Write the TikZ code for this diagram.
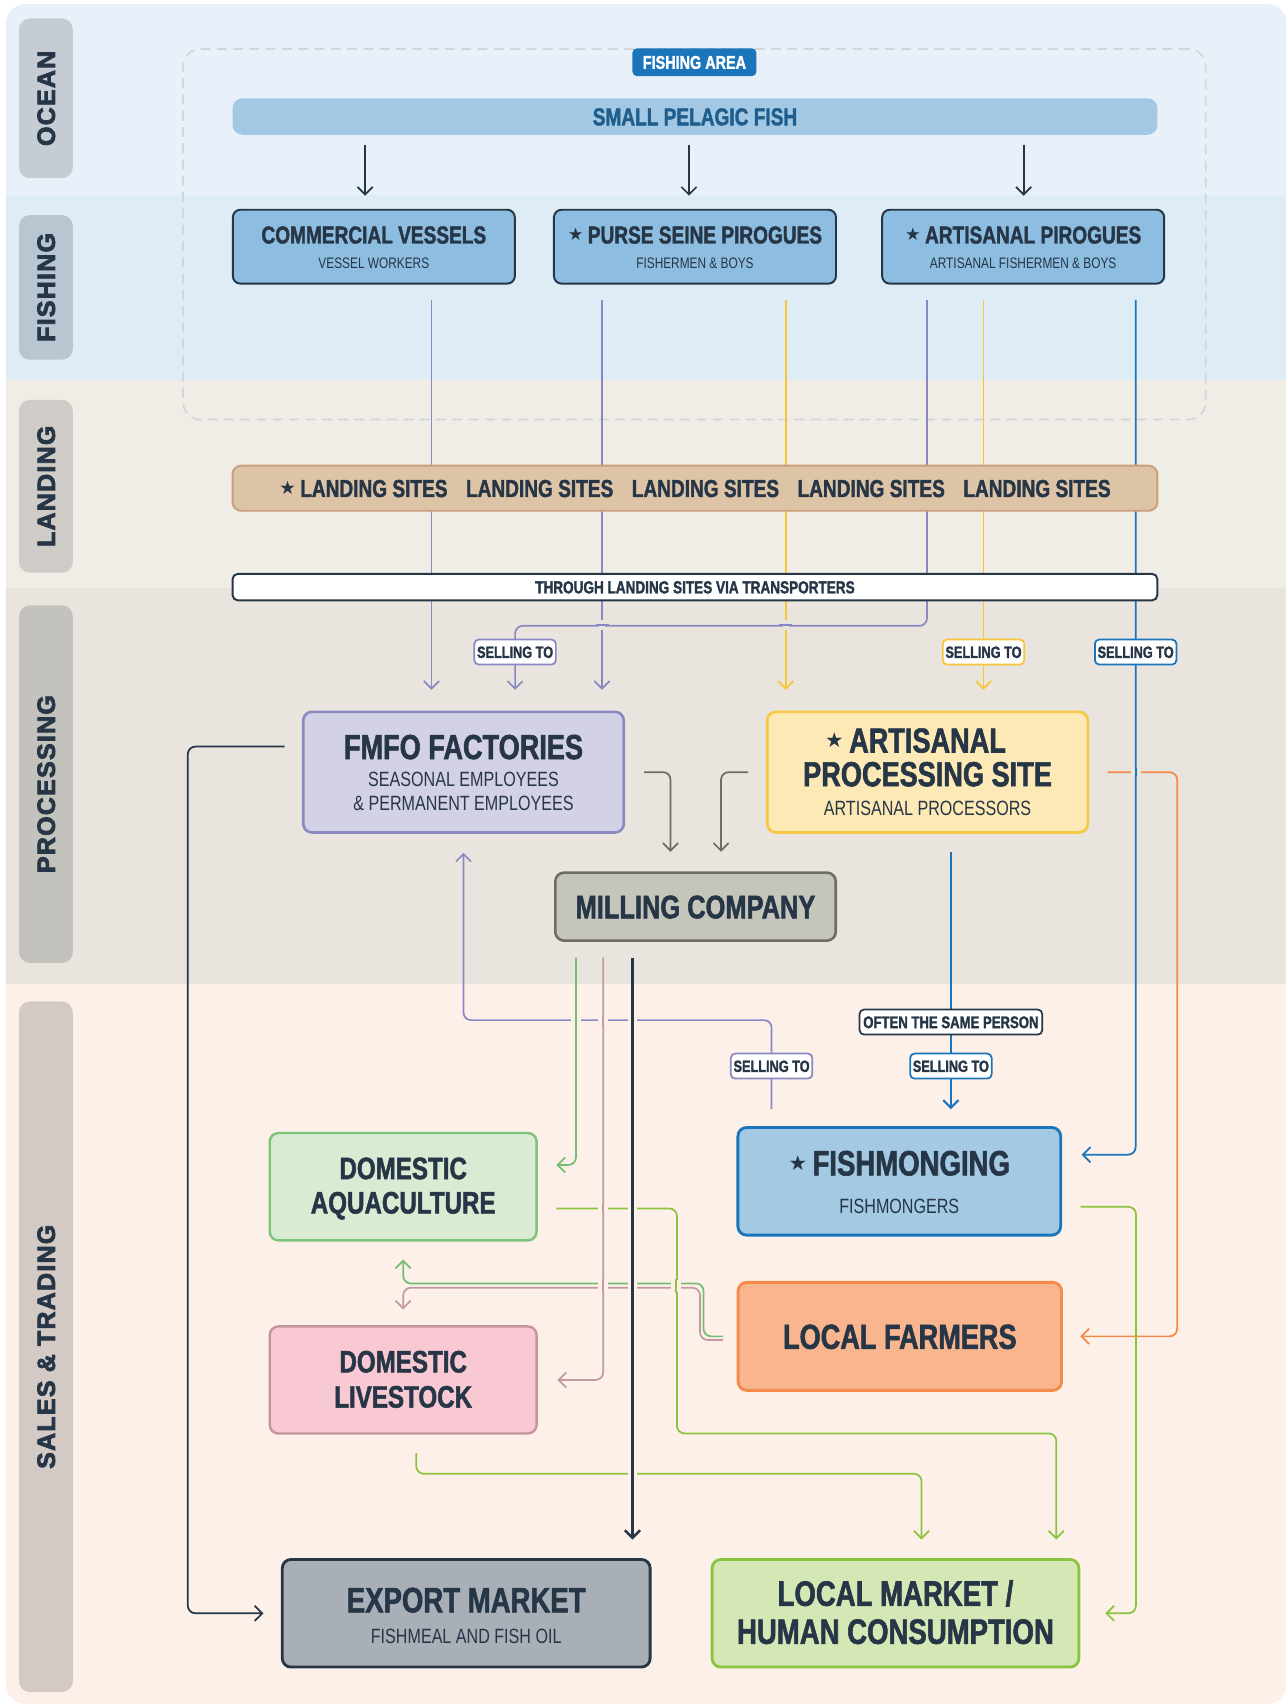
\documentclass[tikz,border=0pt]{standalone}
\usepackage{fontspec}
\usetikzlibrary{arrows.meta}
\setmainfont{Liberation Sans}
\newfontfamily\cond[FakeStretch=0.78,BoldFeatures={FakeBold=1.6}]{Liberation Sans}
\newfontfamily\labf[LetterSpace=5,BoldFeatures={FakeBold=3}]{Liberation Sans}
\newfontfamily\symf{DejaVu Sans}
\definecolor{ink}{HTML}{263646}
\definecolor{cPur}{HTML}{8A88C2}
\definecolor{cYel}{HTML}{F8C537}
\definecolor{cBlu}{HTML}{1B75BB}
\definecolor{cOli}{HTML}{6E6E5E}
\definecolor{cOra}{HTML}{F58A4A}
\definecolor{cGrn}{HTML}{74BE74}
\definecolor{cMau}{HTML}{C29BA2}
\definecolor{cLim}{HTML}{8CC43F}
\definecolor{bgOcean}{HTML}{E8F1F9}
\definecolor{bgFish}{HTML}{DEECF5}
\definecolor{bgLand}{HTML}{F0EDE7}
\definecolor{bgProc}{HTML}{E9E5DE}
\definecolor{bgSales}{HTML}{FDF0E9}
\definecolor{lbOcean}{HTML}{C5CCD3}
\definecolor{lbFish}{HTML}{B8C6D1}
\definecolor{lbLand}{HTML}{CFCBC6}
\definecolor{lbProc}{HTML}{C4C2BC}
\definecolor{lbSales}{HTML}{D3CAC5}
\definecolor{areaLine}{HTML}{D2D6DA}
\definecolor{pelFill}{HTML}{A2C8E4}
\definecolor{pelText}{HTML}{1F5E8C}
\definecolor{fishFill}{HTML}{8DBDE0}
\definecolor{landFill}{HTML}{DDC4A7}
\definecolor{landDraw}{HTML}{C9A07A}
\definecolor{fmfoFill}{HTML}{D3D1E6}
\definecolor{fmfoDraw}{HTML}{8A89C0}
\definecolor{apsFill}{HTML}{FDE9B5}
\definecolor{apsDraw}{HTML}{F6C843}
\definecolor{millFill}{HTML}{C5C5BB}
\definecolor{millDraw}{HTML}{6E6E5E}
\definecolor{aquaFill}{HTML}{DAEBD4}
\definecolor{aquaDraw}{HTML}{7DC37A}
\definecolor{fmFill}{HTML}{A3C9E3}
\definecolor{fmDraw}{HTML}{1B75BB}
\definecolor{farmFill}{HTML}{F9B58D}
\definecolor{farmDraw}{HTML}{F58A4A}
\definecolor{liveFill}{HTML}{F9C9D3}
\definecolor{liveDraw}{HTML}{C4959C}
\definecolor{expFill}{HTML}{A8AFB7}
\definecolor{expDraw}{HTML}{263646}
\definecolor{lmFill}{HTML}{D4E7B5}
\definecolor{lmDraw}{HTML}{8CC43F}
\newcommand\mystar[2]{\raisebox{#2pt}{\symf\fontsize{#1pt}{#1pt}\selectfont ★}}
% vertical line passes over a horizontal one: x, y, background, colour, width, half height
\newcommand\gapV[6]{\fill[#3] (#1-4.5,#2-#6) rectangle (#1+4.5,#2+#6);
  \draw[#4,line width=#5] (#1,#2-#6-1) -- (#1,#2+#6+1);}
% horizontal line passes over a vertical one: x, y, background, colour
\newcommand\gapH[4]{\fill[#3] (#1-2.8,#2-4.5) rectangle (#1+2.8,#2+4.5);
  \draw[#4,line width=1.6pt] (#1-6,#2) -- (#1+6,#2);}
\begin{document}
\begin{tikzpicture}[x=1pt,y=-1pt,
  fb/.code={\pgfmathsetmacro\mycap{0.716*#1}\pgfkeysalso{/tikz/font={\cond\bfseries\fontsize{#1pt}{#1pt}\selectfont},/tikz/text height=\mycap pt,/tikz/text depth=0pt,/tikz/inner sep=0pt,/tikz/text=ink}},
  fr/.code={\pgfmathsetmacro\mycap{0.716*#1}\pgfkeysalso{/tikz/font={\cond\mdseries\fontsize{#1pt}{#1pt}\selectfont},/tikz/text height=\mycap pt,/tikz/text depth=0pt,/tikz/inner sep=0pt,/tikz/text=ink}},
  lab/.style={rotate=90, rounded corners=10pt, minimum height=49.5pt, inner sep=0pt,
    font=\labf\bfseries\fontsize{23pt}{23pt}\selectfont, text=ink, text height=16.5pt, text depth=0pt},
  fbox/.style={draw=ink, fill=fishFill, line width=1.8pt, rounded corners=7pt,
    minimum width=259.5pt, minimum height=68pt, inner sep=0pt},
  bigbox/.style 2 args={draw=#1, fill=#2, line width=2.4pt, rounded corners=8pt, inner sep=0pt},
  tag/.style={fb=15, fill=white, draw=#1, line width=1.6pt, rounded corners=4pt,
    minimum width=75pt, minimum height=23pt},
  ln/.style={line width=1.6pt, rounded corners=7pt, -{Straight Barb[length=7pt,width=14pt]}}
]
\useasboundingbox (0,0) rectangle (1184,1568);
% ---------- background bands ----------
\begin{scope}
\clip[rounded corners=18pt] (5.5,3.7) rectangle (1184,1568);
\fill[bgOcean] (0,0) rectangle (1184,179.5);
\fill[bgFish] (0,179.5) rectangle (1184,349.6);
\fill[bgLand] (0,349.6) rectangle (1184,541);
\fill[bgProc] (0,541) rectangle (1184,905);
\fill[bgSales] (0,905) rectangle (1184,1568);
\end{scope}
% ---------- band labels ----------
\node[lab, fill=lbOcean, minimum width=147pt] (lOcean) at (42.25,90.5) {OCEAN};
\node[lab, fill=lbFish, minimum width=133pt] (lFish) at (42.25,264.5) {FISHING};
\node[lab, fill=lbLand, minimum width=159pt] (lLand) at (42.25,447.5) {LANDING};
\node[lab, fill=lbProc, minimum width=329pt] (lProc) at (42.25,721.5) {PROCESSING};
\node[lab, fill=lbSales, minimum width=635.5pt] (lSales) at (42.25,1239.25) {SALES \& TRADING};
% ---------- fishing area ----------
\node[draw=areaLine, dash pattern=on 9pt off 6pt, line width=1.6pt, rounded corners=16pt,
  minimum width=941pt, minimum height=341pt, inner sep=0pt] (area) at (639,215.5) {};
\node[fb=17, text=white, fill=cBlu, rounded corners=4pt, minimum width=114pt, minimum height=25.5pt] (fatag) at (639,57.25) {FISHING AREA};
\node[fb=22.5, text=pelText, fill=pelFill, rounded corners=9pt, minimum width=851pt, minimum height=33.5pt] (pelagic) at (639.5,107.25) {SMALL PELAGIC FISH};
% ---------- fishing boxes ----------
\node[fbox] (cv) at (344,227) {};
\node[fb=22.5] (cvT) at ([yshift=11pt]cv.center) {COMMERCIAL VESSELS};
\node[fr=14] (cvS) at ([yshift=-14.6pt]cv.center) {VESSEL WORKERS};
\node[fbox] (ps) at (639.5,227) {};
\node[fb=22.5] (psT) at ([yshift=11pt]ps.center) {\mystar{16}{2.3}\hspace{4pt}PURSE SEINE PIROGUES};
\node[fr=14] (psS) at ([yshift=-14.6pt]ps.center) {FISHERMEN \& BOYS};
\node[fbox] (ap) at (941.5,227) {};
\node[fb=22.5] (apT) at ([yshift=11pt]ap.center) {\mystar{16}{2.3}\hspace{4pt}ARTISANAL PIROGUES};
\node[fr=14] (apS) at ([yshift=-14.6pt]ap.center) {ARTISANAL FISHERMEN \& BOYS};
% ---------- processing ----------
\node[bigbox={fmfoDraw}{fmfoFill}, minimum width=295pt, minimum height=111pt] (fmfo) at (426.5,710.5) {};
\node[fb=32] (fmfoT) at ([yshift=23.5pt]fmfo.center) {FMFO FACTORIES};
\node[fr=19] (fmfoS1) at ([yshift=-6.1pt]fmfo.center) {SEASONAL EMPLOYEES};
\node[fr=19] (fmfoS2) at ([yshift=-28.5pt]fmfo.center) {\& PERMANENT EMPLOYEES};
\node[bigbox={apsDraw}{apsFill}, minimum width=295pt, minimum height=111pt] (aps) at (853.5,710.5) {};
\node[fb=32] (apsT1) at ([yshift=29.5pt]aps.center) {\llap{\mystar{19}{4.6}\hspace{5pt}}ARTISANAL};
\node[fb=32] (apsT2) at ([yshift=-1.5pt]aps.center) {PROCESSING SITE};
\node[fr=19] (apsS) at ([yshift=-33pt]aps.center) {ARTISANAL PROCESSORS};
\node[bigbox={millDraw}{millFill}, fb=30, minimum width=258pt, minimum height=62.5pt] (mill) at (640,834.25) {MILLING COMPANY};
% ---------- sales & trading ----------
\node[bigbox={aquaDraw}{aquaFill}, line width=2.2pt, minimum width=245.6pt, minimum height=98.8pt] (aqua) at (371,1092) {};
\node[fb=28.5] (aquaT1) at ([yshift=17.2pt]aqua.center) {DOMESTIC};
\node[fb=28.5] (aquaT2) at ([yshift=-14.4pt]aqua.center) {AQUACULTURE};
\node[bigbox={fmDraw}{fmFill}, line width=2.6pt, minimum width=297pt, minimum height=99pt] (fishm) at (827.5,1087) {};
\node[fb=32.5] (fishmT) at ([yshift=17pt]fishm.center) {\mystar{19}{4.8}\hspace{5pt}FISHMONGING};
\node[fr=19] (fishmS) at ([yshift=-23pt]fishm.center) {FISHMONGERS};
\node[bigbox={farmDraw}{farmFill}, line width=2.6pt, fb=32, minimum width=297.6pt, minimum height=99.4pt] (farm) at (828,1229.7) {LOCAL FARMERS};
\node[bigbox={liveDraw}{liveFill}, line width=2.2pt, minimum width=245.6pt, minimum height=98.5pt] (live) at (371,1269.8) {};
\node[fb=28.5] (liveT1) at ([yshift=17.1pt]live.center) {DOMESTIC};
\node[fb=28.5] (liveT2) at ([yshift=-15.2pt]live.center) {LIVESTOCK};
\node[bigbox={expDraw}{expFill}, line width=2.6pt, minimum width=338.5pt, minimum height=99pt] (exp) at (429,1484.5) {};
\node[fb=32.5] (expT) at ([yshift=12.5pt]exp.center) {EXPORT MARKET};
\node[fr=19] (expS) at ([yshift=-21.2pt]exp.center) {FISHMEAL AND FISH OIL};
\node[bigbox={lmDraw}{lmFill}, line width=2.6pt, minimum width=337.5pt, minimum height=99pt] (lm) at (824,1484.5) {};
\node[fb=32.5] (lmT1) at ([yshift=18.5pt]lm.center) {LOCAL MARKET /};
\node[fb=32.5] (lmT2) at ([yshift=-16.5pt]lm.center) {HUMAN CONSUMPTION};
% ---------- connectors ----------
\draw[ln, ink] ([shift={(-303.5,9)}]pelagic.south) -- ([shift={(-8,-12)}]cv.north);
\draw[ln, ink] ([shift={(-5.5,9)}]pelagic.south) -- ([shift={(-5.5,-12)}]ps.north);
\draw[ln, ink] ([shift={(302.5,9)}]pelagic.south) -- ([shift={(0.5,-12)}]ap.north);
\draw[ln, cPur] ([shift={(53,14)}]cv.south) -- ([shift={(-29.5,-19)}]fmfo.north);
\draw[ln, cPur] ([shift={(-85.5,14)}]ps.south) -- ([shift={(127.5,-19)}]fmfo.north);
\draw[ln, cYel] ([shift={(83.5,14)}]ps.south) -- ([shift={(-130.5,-19)}]aps.north);
\draw[ln, cYel] ([shift={(-36.5,14)}]ap.south) -- ([shift={(51.5,-19)}]aps.north);
\draw[ln, cBlu] ([shift={(103.5,14)}]ap.south) |- ([shift={(18,-24.5)}]fishm.east);
\draw[ln, cPur] ([shift={(-88.5,14)}]ap.south) -- ++(0,300) -| ([shift={(47.5,-19)}]fmfo.north);
\draw[ln, ink] ([shift={(-16,-23.5)}]fmfo.west) -- ++(-89,0) |- ([shift={(-16,0)}]exp.west);
\draw[ln, cOli] ([shift={(17.5,0)}]fmfo.east) -| ([shift={(-23,-18)}]mill.north);
\draw[ln, cOli] ([shift={(-16.5,0)}]aps.west) -| ([shift={(23.5,-18)}]mill.north);
\draw[ln, cOra] ([shift={(17,0)}]aps.east) -- ++(64,0) |- ([shift={(16,0)}]farm.east);
\draw[ln, cBlu, line width=2pt] ([shift={(21.5,17)}]aps.south) -- ([shift={(47.5,-15.5)}]fishm.north);
\draw[ln, cPur] ([shift={(-117.5,-15.5)}]fishm.north) -- ++(0,-82) -| ([shift={(0,17.5)}]fmfo.south);
\draw[ln, cGrn] ([shift={(-110,14.5)}]mill.south) |- ([shift={(17,-20)}]aqua.east);
\draw[ln, cMau] ([shift={(-85,14.5)}]mill.south) |- ([shift={(18,0)}]live.east);
\draw[ln, ink, line width=2.2pt] ([shift={(-58,14.5)}]mill.south) -- ([shift={(153,-17)}]exp.north);
\draw[ln, cLim] ([shift={(17,20)}]aqua.east) -- ++(111,0) -- ++(0,207) -| ([shift={(148,-17)}]lm.north);
\draw[ln, cLim] ([shift={(17,23.5)}]fishm.east) -- ++(51,0) |- ([shift={(23,0)}]lm.east);
\draw[ln, cLim] ([shift={(12,17)}]live.south) -- ++(0,19) -| ([shift={(24,-17)}]lm.north);
\draw[ln, cGrn] ([shift={(-12.5,0)}]farm.west) -- ++(-18,0) -- ++(0,-48.7) -| ([shift={(0,16.5)}]aqua.south);
\draw[ln, cMau] ([shift={(-12.5,3.3)}]farm.west) -- ++(-21.2,0) -- ++(0,-48) -| ([shift={(0,-14.5)}]live.north);
% ---------- crossings ----------
\gapH{554}{575}{bgProc}{cPur}
\gapH{723}{575}{bgProc}{cPur}
\gapV{1045}{710.5}{bgProc}{cBlu}{1.6pt}{3}
\gapV{530}{940}{bgSales}{cGrn}{1.6pt}{3}
\gapV{555}{940}{bgSales}{cMau}{1.6pt}{3}
\gapV{582}{940}{bgSales}{ink}{2.2pt}{3}
\gapV{555}{1112}{bgSales}{cMau}{1.6pt}{3}
\gapV{582}{1112}{bgSales}{ink}{2.2pt}{3}
\gapV{555}{1183}{bgSales}{cMau}{1.6pt}{5.5}
\gapV{582}{1183}{bgSales}{ink}{2.2pt}{5.5}
\gapV{622}{1183}{bgSales}{cLim}{1.6pt}{5.5}
\gapV{582}{1355}{bgSales}{ink}{2.2pt}{3}
% ---------- bars over the lines ----------
\node[fb=22.5, fill=landFill, draw=landDraw, line width=1.8pt, rounded corners=8pt,
  minimum width=851pt, minimum height=41.5pt] (landing) at (639.5,449.25)
  {\mystar{17}{1.9}\hspace{4pt}LANDING SITES\hspace{17pt}LANDING SITES\hspace{17pt}LANDING SITES\hspace{17pt}LANDING SITES\hspace{17pt}LANDING SITES};
\node[fb=16, fill=white, draw=ink, line width=1.8pt, rounded corners=5pt,
  minimum width=851pt, minimum height=24.5pt] (through) at (639.5,540.25) {THROUGH LANDING SITES VIA TRANSPORTERS};
% ---------- tags ----------
\node[tag=cPur] (tag1) at (474,600) {SELLING TO};
\node[tag=cYel] (tag2) at (905,600) {SELLING TO};
\node[tag=cBlu] (tag3) at (1045,600) {SELLING TO};
\node[tag=cPur] (tag4) at (710,981) {SELLING TO};
\node[tag=cBlu] (tag5) at (875,981) {SELLING TO};
\node[tag=ink, fb=15.5, minimum width=168pt] (tag6) at (875,940.5) {OFTEN THE SAME PERSON};
\end{tikzpicture}
\end{document}
